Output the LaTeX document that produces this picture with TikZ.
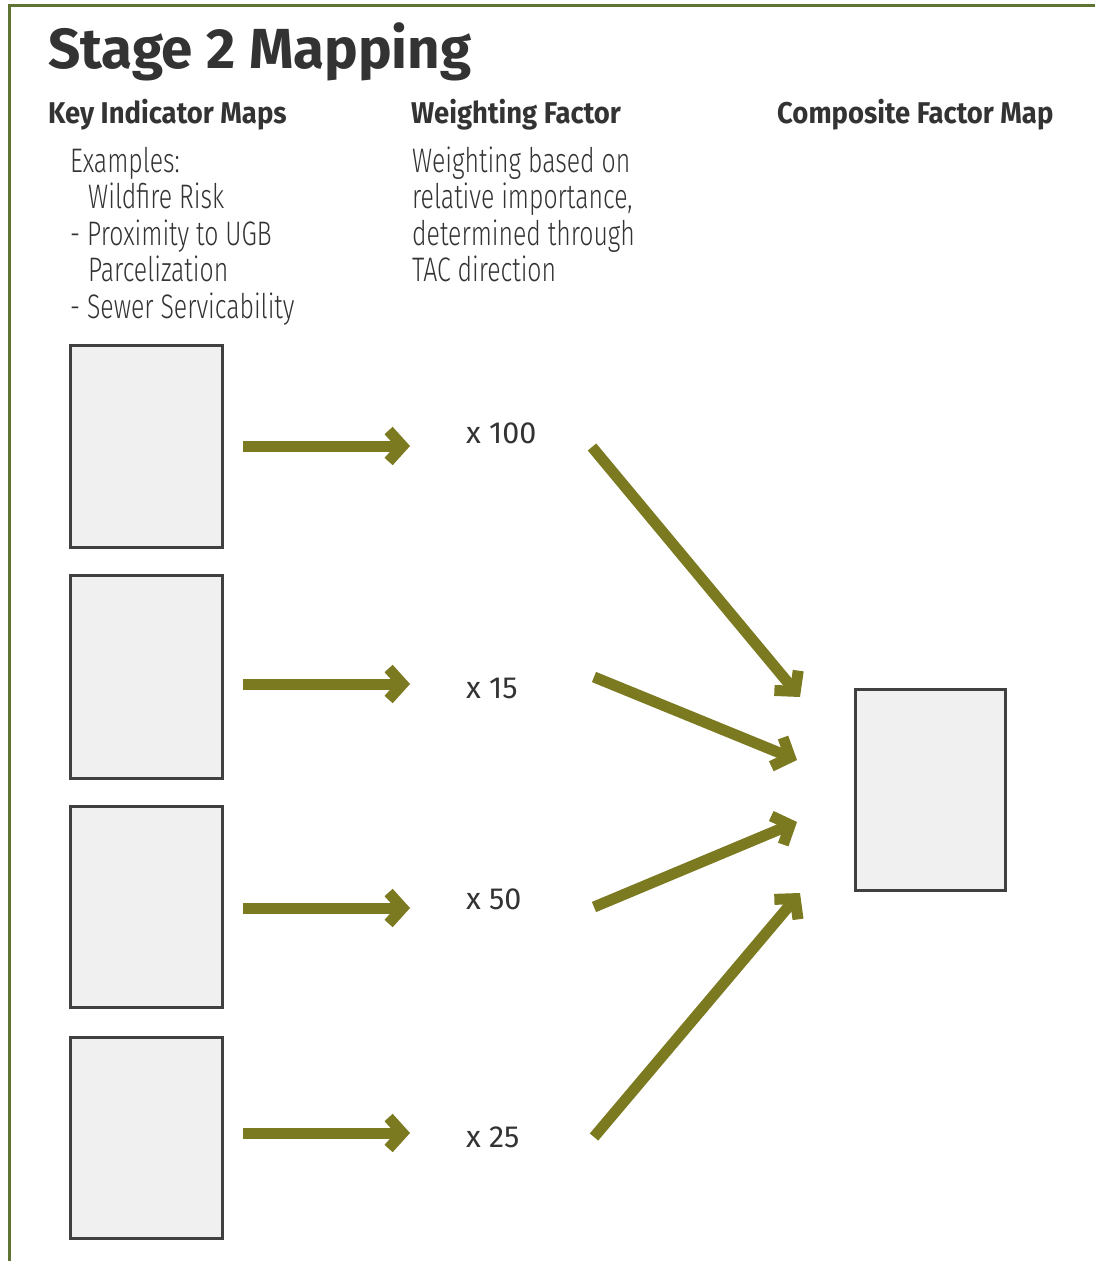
\documentclass[tikz,border=0pt]{standalone}
\usepackage{fontspec}
\setmainfont{Fira Sans}
\newfontfamily\narrowfont[FakeStretch=0.73]{Fira Sans Light}
\newfontfamily\headfont[FakeStretch=0.915]{Fira Sans}
\usetikzlibrary{arrows.meta}
\definecolor{olive}{HTML}{7B7A20}
\definecolor{framegreen}{HTML}{5E7334}
\definecolor{inkgray}{HTML}{333333}
\definecolor{boxline}{HTML}{404040}
\definecolor{boxfill}{HTML}{F0F0F0}
\begin{document}
\begin{tikzpicture}[x=1pt,y=-1pt,
  mapbox/.style={draw=boxline, line width=3pt, fill=boxfill, inner sep=0pt},
  flow/.style={draw=olive, line width=11pt,
    -{Straight Barb[length=14pt,width=31pt,line width=11pt]}},
  titletext/.style={anchor=base west, inner sep=0pt, text=inkgray,
    font=\bfseries\fontsize{56.5}{60}\selectfont},
  headtext/.style={anchor=base west, inner sep=0pt, text=inkgray,
    font=\headfont\bfseries\fontsize{30}{34}\selectfont},
  bodytext/.style={anchor=base west, inner sep=0pt, text=inkgray,
    font=\narrowfont\fontsize{34}{36.5}\selectfont},
  weighttext/.style={anchor=base west, inner sep=0pt, text=inkgray,
    font=\fontsize{30.5}{32}\selectfont}]
\useasboundingbox (0,0) rectangle (1095,1261);
\fill[white] (0,0) rectangle (1095,1261);
% frame lines along the top and left edges
\draw[framegreen, line width=3pt] (9,1261) -- (9,5) -- (1095,5);

% headings
\node[titletext] (title) at (48,68) {Stage 2 Mapping};
\node[headtext] (h1) at (48,123) {Key Indicator Maps};
\node[headtext] (h2) at (411,123) {Weighting Factor};
\node[headtext] (h3) at (777,123) {Composite Factor Map};

% explanatory text
\node[bodytext] (ex1) at (70,172) {Examples:};
\node[bodytext] (ex2) at (88,208.5) {Wildfire Risk};
\node[bodytext] (ex3) at (70,245) {- Proximity to UGB};
\node[bodytext] (ex4) at (88,281.5) {Parcelization};
\node[bodytext] (ex5) at (70,318) {- Sewer Servicability};
\node[bodytext] (wt1) at (412,172) {Weighting based on};
\node[bodytext] (wt2) at (412,208.5) {relative importance,};
\node[bodytext] (wt3) at (412,245) {determined through};
\node[bodytext] (wt4) at (412,281.5) {TAC direction};

% indicator maps
\node[mapbox, minimum width=152pt, minimum height=202pt] (m1) at (146,446) {};
\node[mapbox, minimum width=152pt, minimum height=203pt] (m2) at (146,676.5) {};
\node[mapbox, minimum width=152pt, minimum height=201pt] (m3) at (146,906.5) {};
\node[mapbox, minimum width=152pt, minimum height=201pt] (m4) at (146,1137.5) {};
% composite map
\node[mapbox, minimum width=150pt, minimum height=201pt] (comp) at (930,789.5) {};

% weighting factors
\node[weighttext] (w1) at (466,443) {x 100};
\node[weighttext] (w2) at (466,698) {x 15};
\node[weighttext] (w3) at (466,909) {x 50};
\node[weighttext] (w4) at (466,1147) {x 25};

% arrow end points
\coordinate (s1) at (243,446);
\coordinate (s2) at (243,684);
\coordinate (s3) at (243,908);
\coordinate (s4) at (243,1133);
\coordinate (e1) at (410,446);
\coordinate (e2) at (410,684);
\coordinate (e3) at (410,908);
\coordinate (e4) at (410,1133);
\coordinate (d1) at (592,447);
\coordinate (d2) at (594,677);
\coordinate (d3) at (594,907);
\coordinate (d4) at (594,1137);
\coordinate (t1) at (800,697);
\coordinate (t2) at (797,760);
\coordinate (t3) at (797,822);
\coordinate (t4) at (800,893);

\foreach \i in {1,2,3,4} {
  \draw[flow] (s\i) -- (e\i);
  \draw[flow] (d\i) -- (t\i);
}
\end{tikzpicture}
\end{document}
